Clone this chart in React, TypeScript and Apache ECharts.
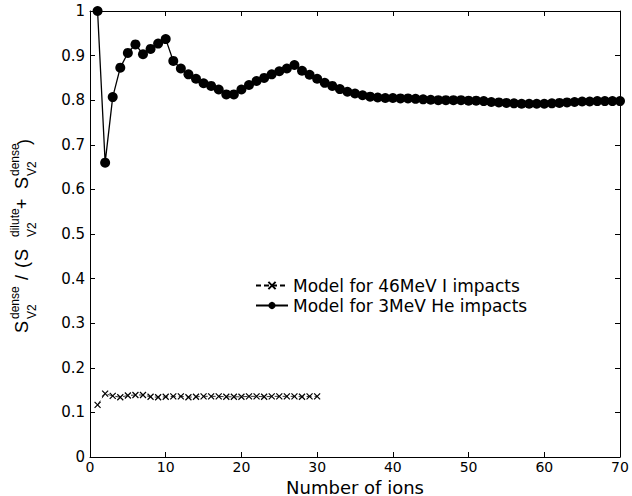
import React, { useEffect, useRef } from "react";
import * as echarts from "echarts";

// Series values, ion counts start at 1
const heValues = [
  1.0, 0.66, 0.807, 0.873, 0.906, 0.925, 0.903, 0.915, 0.927, 0.937,
  0.888, 0.871, 0.858, 0.848, 0.838, 0.832, 0.824, 0.813, 0.813, 0.824,
  0.834, 0.843, 0.85, 0.858, 0.865, 0.871, 0.879, 0.866, 0.857, 0.848,
  0.839, 0.832, 0.825, 0.819, 0.815, 0.811, 0.808, 0.806, 0.805, 0.805,
  0.804, 0.804, 0.803, 0.802, 0.801, 0.8, 0.8, 0.8, 0.8, 0.799,
  0.799, 0.798, 0.796, 0.795, 0.794, 0.793, 0.792, 0.792, 0.792, 0.792,
  0.793, 0.794, 0.795, 0.796, 0.797, 0.797, 0.798, 0.798, 0.798, 0.798,
];
const iValues = [
  0.117, 0.142, 0.137, 0.134, 0.138, 0.139, 0.139, 0.135, 0.134, 0.135,
  0.136, 0.136, 0.134, 0.135, 0.136, 0.136, 0.136, 0.135, 0.135, 0.135,
  0.136, 0.136, 0.135, 0.136, 0.136, 0.136, 0.136, 0.135, 0.136, 0.136,
];
const seriesNames = ["Model for 46MeV I impacts", "Model for 3MeV He impacts"];
const xAxisTitle = "Number of ions";

// y-axis title fragments: [text, along-offset, baseline-offset, fontSize]
const yTitleParts: [string, number, number, number][] = [
  ["S", 0, 0, 18],
  ["dense", 14, -9, 12],
  ["V2", 14, 8, 12],
  ["/", 53, 0, 18],
  ["(", 65, 0, 18],
  ["S", 72, 0, 18],
  ["dilute", 96, -9, 12],
  ["V2", 96, 8, 12],
  ["+", 124, 0, 18],
  ["S", 144, 0, 18],
  ["dense", 157, -9, 12],
  ["V2", 157, 8, 12],
  [")", 188, 2, 18],
];

const FONT = "DejaVu Sans";

export default function App() {
  const ref = useRef<HTMLDivElement>(null);
  useEffect(() => {
    if (!ref.current) return;
    const chart = echarts.init(ref.current, null, { renderer: "svg" });
    const heData = heValues.map((v, i) => [i + 1, v]);
    const iData = iValues.map((v, i) => [i + 1, v]);
    const axisCommon = {
      axisLine: { show: true, onZero: false, lineStyle: { color: "#000", width: 1 } },
      axisTick: { show: true, inside: true, length: 5, lineStyle: { color: "#000", width: 1 } },
      splitLine: { show: false },
    };
    const option: any = {
      animation: false,
      backgroundColor: "#ffffff",
      grid: {
        left: 90,
        top: 11,
        width: 530,
        height: 446,
        containLabel: false,
        outerBoundsMode: "none",
      },
      xAxis: [
        {
          type: "value",
          min: 0,
          max: 70,
          interval: 10,
          position: "bottom",
          ...axisCommon,
          axisLabel: { color: "#000", fontSize: 14, lineHeight: 14, fontFamily: FONT, margin: 3 },
          name: xAxisTitle,
          nameLocation: "middle",
          nameGap: 21,
          nameMoveOverlap: false,
          nameTextStyle: { color: "#000", fontSize: 18, lineHeight: 18, fontFamily: FONT },
        },
        {
          type: "value",
          min: 0,
          max: 70,
          interval: 10,
          position: "top",
          ...axisCommon,
          axisLabel: { show: false },
        },
      ],
      yAxis: [
        {
          type: "value",
          min: 0,
          max: 1,
          interval: 0.1,
          position: "left",
          ...axisCommon,
          axisLabel: { color: "#000", fontSize: 15, fontFamily: FONT, margin: 5 },
        },
        {
          type: "value",
          min: 0,
          max: 1,
          interval: 0.1,
          position: "right",
          ...axisCommon,
          axisLabel: { show: false },
        },
      ],
      legend: {
        orient: "vertical",
        left: 255,
        top: 277,
        padding: 0,
        itemWidth: 32,
        itemHeight: 9,
        itemGap: 3,
        textStyle: { color: "#000", fontSize: 17, fontFamily: FONT },
        data: seriesNames,
      },
      series: [
        {
          name: seriesNames[0],
          type: "line",
          data: iData,
          clip: false,
          symbol: "path://M0,0L10,10M10,0L0,10",
          symbolSize: 6,
          lineStyle: { color: "#000", width: 0.8, type: [5, 3] },
          itemStyle: { color: "rgba(0,0,0,0)", borderColor: "#000", borderWidth: 1.2 },
        },
        {
          name: seriesNames[1],
          type: "line",
          data: heData,
          clip: false,
          symbol: "circle",
          symbolSize: 10,
          lineStyle: { color: "#000", width: 1.3 },
          itemStyle: { color: "#000" },
        },
      ],
      graphic: [
        {
          type: "group",
          x: 28,
          y: 333,
          rotation: Math.PI / 2,
          children: yTitleParts.map(([t, lx, ly, f]) => ({
            type: "text",
            x: lx,
            y: ly - 0.35 * f,
            style: {
              text: t,
              fontSize: f,
              fontFamily: "Liberation Sans",
              fill: "#000",
              align: "left",
              verticalAlign: "middle",
              textAlign: "left",
              textVerticalAlign: "middle",
            },
          })),
        },
      ],
    };
    chart.setOption(option);
    return () => chart.dispose();
  }, []);
  return (
    <div
      ref={ref}
      style={{ position: "fixed", left: 0, top: 0, width: 632, height: 496, background: "#fff" }}
    />
  );
}
